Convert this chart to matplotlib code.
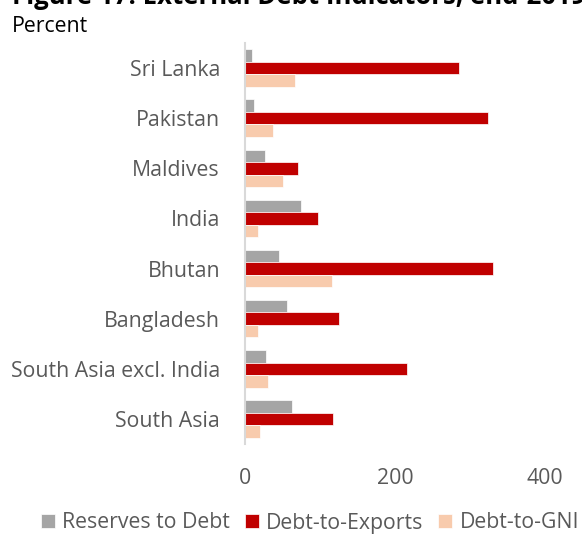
import matplotlib.pyplot as plt
import numpy as np

categories = ["Sri Lanka", "Pakistan", "Maldives", "India", "Bhutan",
              "Bangladesh", "South Asia excl. India", "South Asia"]
reserves_to_debt = [9, 12, 26, 75, 45, 56, 28, 62]
debt_to_exports = [285, 324, 70, 97, 330, 125, 216, 117]
debt_to_gni = [67, 37, 50, 17, 116, 17, 31, 20]
series_names = ["Reserves to Debt", "Debt-to-Exports", "Debt-to-GNI"]
colors = ["#A5A5A5", "#C00000", "#F8CBAD"]
xticks = [0, 200, 400]

plt.rcParams['font.family'] = ['Open Sans', 'DejaVu Sans']

fig = plt.figure(figsize=(5.82, 5.37), dpi=100)
ax = fig.add_axes([245/582, 1-444/537, 300/582, 401/537])

n = len(categories)
ypos = n - 1 - np.arange(n)
h = 0.25
for i, (vals, col, name) in enumerate(zip([reserves_to_debt, debt_to_exports, debt_to_gni], colors, series_names)):
    ax.barh(ypos + (1 - i) * h, vals, height=h, color=col, label=name,
            edgecolor='white', linewidth=0.5)

fs = 15.3
ax.set_xlim(0, 400)
ax.set_ylim(-0.5, n - 0.5)
ax.set_yticks(ypos)
ax.set_yticklabels(categories, fontsize=fs, color='#595959')
ax.set_xticks(xticks)
ax.set_xticklabels([str(x) for x in xticks], fontsize=fs, color='#595959')
ax.tick_params(axis='y', length=0, pad=18)
ax.tick_params(axis='x', length=0, pad=17)
for s in ['top', 'right', 'bottom']:
    ax.spines[s].set_visible(False)
ax.spines['left'].set_color('#D9D9D9')
ax.spines['left'].set_linewidth(1.5)

fig.text(12/582, 1 + 4/537, "Figure 17. External Debt Indicators, end-2019",
         fontsize=18.5, fontweight='bold', ha='left', va='center', color='black')
fig.text(12/582, 1 - 26/537, "Percent", fontsize=fs, ha='left', va='center', color='black')

handles, labels = ax.get_legend_handles_labels()
leg = fig.legend(handles, labels, loc='center', bbox_to_anchor=(310/582, 1 - 523/537),
                 ncol=3, frameon=False, fontsize=fs, handlelength=0.65, handleheight=0.65,
                 handletextpad=0.35, columnspacing=0.7)
for t in leg.get_texts():
    t.set_color('#595959')

fig.savefig("out.png", dpi=100)
